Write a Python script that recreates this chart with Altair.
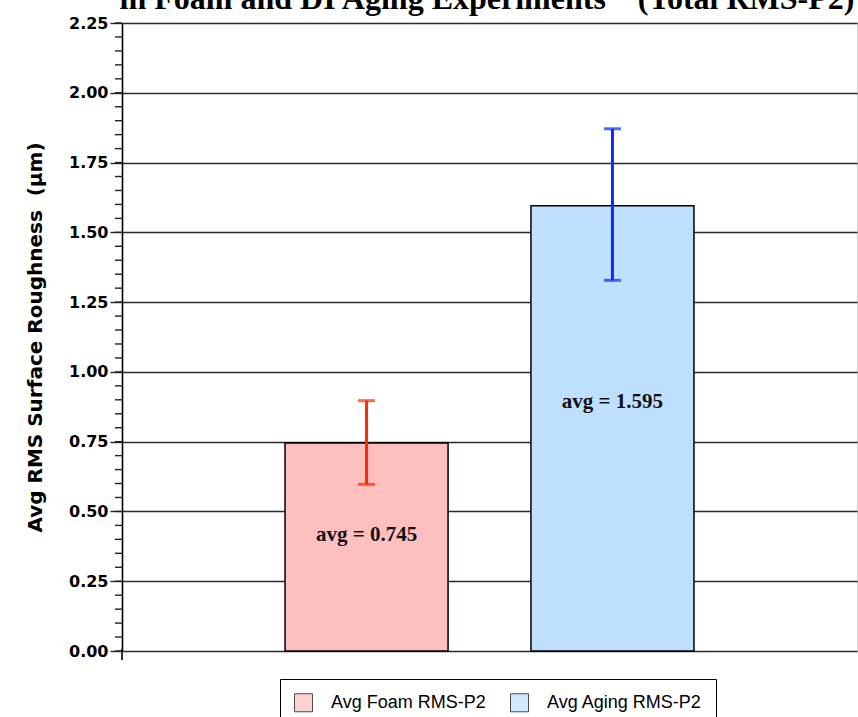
import altair as alt
import numpy as np
import pandas as pd

# Averages with their error-bar ranges
groups = ["Avg Foam RMS-P2", "Avg Aging RMS-P2"]
avg_values = [0.745, 1.595]
err_low = [0.597, 1.328]
err_high = [0.897, 1.871]
bar_fills = ["#ffbfbf", "#bfdfff"]
err_colors = ["#ff2a00", "#0a2cff"]
major_ticks = [0.0, 0.25, 0.5, 0.75, 1.0, 1.25, 1.5, 1.75, 2.0, 2.25]
title_text = "in Foam and DI Aging Experiments\u00a0\u00a0\u00a0\u00a0(Total RMS-P2)"
y_title = "Avg RMS Surface Roughness\u00a0\u00a0(\u03bcm)"

df = pd.DataFrame({
    "group": groups,
    "avg": avg_values,
    "lo": err_low,
    "hi": err_high,
    "ecolor": err_colors,
})
df["label"] = ["avg = %.3f" % v for v in avg_values]

minor = pd.DataFrame({"v": np.round(np.arange(0, 2.2501, 0.05), 2)})

W, H = 735, 628

xscale = alt.Scale(domain=groups, paddingInner=0.337, paddingOuter=0.663)
yscale = alt.Scale(domain=[0, 2.25], nice=False, zero=True)

base = alt.Chart(df)

bars = base.mark_bar(stroke="black", strokeWidth=1.5).encode(
    x=alt.X("group:N", scale=xscale, axis=None, sort=groups),
    y=alt.Y(
        "avg:Q",
        scale=yscale,
        title=y_title,
        axis=alt.Axis(
            values=major_ticks,
            format=".2f",
            grid=True,
            gridColor="#2a2a2a",
            gridWidth=1.7,
            domainColor="black",
            domainWidth=1.6,
            tickColor="#222222",
            tickWidth=1.4,
            tickSize=12,
            labelPadding=2,
            labelFont="DejaVu Sans",
            labelFontWeight="bold",
            labelFontSize=16,
            labelColor="black",
            titleFont="DejaVu Sans",
            titleFontWeight="bold",
            titleFontSize=20,
            titleColor="black",
            titlePadding=23,
        ),
    ),
    color=alt.Color(
        "group:N",
        scale=alt.Scale(domain=groups, range=bar_fills),
        sort=groups,
        legend=alt.Legend(
            title=None,
            orient="none",
            legendX=158,
            legendY=656,
            direction="horizontal",
            symbolType="square",
            symbolSize=324,
            symbolStrokeColor="black",
            symbolStrokeWidth=1,
            symbolOpacity=1,
            labelFont="Liberation Sans",
            labelFontSize=18,
            labelColor="black",
            labelOffset=18,
            columnPadding=22,
            padding=14,
            strokeColor="black",
            fillColor="white",
        ),
    ),
)

# Error bars: vertical stems plus caps
stems = base.mark_rule(strokeWidth=3).encode(
    x=alt.X("group:N", scale=xscale, sort=groups),
    y=alt.Y("lo:Q", scale=yscale),
    y2="hi:Q",
    color=alt.Color("ecolor:N", scale=None),
)
caps_hi = base.mark_tick(size=17, thickness=3, orient="horizontal").encode(
    x=alt.X("group:N", scale=xscale, sort=groups),
    y=alt.Y("hi:Q", scale=yscale),
    color=alt.Color("ecolor:N", scale=None),
)
caps_lo = base.mark_tick(size=17, thickness=3, orient="horizontal").encode(
    x=alt.X("group:N", scale=xscale, sort=groups),
    y=alt.Y("lo:Q", scale=yscale),
    color=alt.Color("ecolor:N", scale=None),
)

# Value labels inside the bars
labels = base.transform_calculate(ypos="datum.avg * 0.56").mark_text(
    font="Liberation Serif", fontWeight="bold", fontSize=21, color="#111111"
).encode(
    x=alt.X("group:N", scale=xscale, sort=groups),
    y=alt.Y("ypos:Q", scale=yscale),
    text="label:N",
)

# Minor ticks on the value axis
minor_ticks = alt.Chart(minor).mark_rule(color="#222222", strokeWidth=1.4).encode(
    x=alt.value(-7),
    x2=alt.value(0),
    y=alt.Y("v:Q", scale=yscale),
)

# Axis line running a little below zero
axis_tail = alt.Chart(pd.DataFrame({"a": [0]})).mark_rule(
    color="black", strokeWidth=1.6
).encode(x=alt.value(0), y=alt.value(H - 2), y2=alt.value(H + 9))

# Chart title (second line, top edge above the canvas)
title = alt.Chart(pd.DataFrame({"t": [title_text]})).mark_text(
    font="Liberation Serif",
    fontWeight="bold",
    fontSize=32,
    baseline="alphabetic",
    align="center",
    color="black",
).encode(text="t:N", x=alt.value(365), y=alt.value(-14))

chart = (
    alt.layer(bars, stems, caps_hi, caps_lo, labels, minor_ticks, axis_tail, title)
    .properties(
        width=W,
        height=H,
        padding={"left": 122, "top": 23, "right": 1, "bottom": 66},
        autosize=alt.AutoSizeParams(type="none"),
        background="white",
    )
    .configure_view(stroke="#d0d0d0", strokeWidth=1)
)

chart.save("out.html", embed_options={"renderer": "svg", "actions": False})
